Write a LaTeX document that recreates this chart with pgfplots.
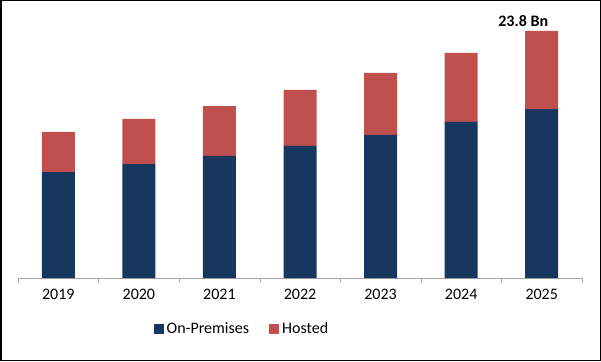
\documentclass[border=0pt]{standalone}
\usepackage{pgfplots}
\pgfplotsset{compat=1.18}
\usepackage{fontspec}
\setmainfont{Carlito}
\definecolor{navy}{HTML}{17375E}
\definecolor{hred}{HTML}{C0504D}
\begin{document}
\begin{tikzpicture}[x=1pt,y=1pt]
\draw[black, line width=1.5pt] (0.75,0.75) rectangle (600.25,360.25);
\begin{axis}[
  at={(18pt,83pt)}, anchor=south west,
  scale only axis, width=564pt, height=259.5pt,
  ybar stacked, bar width=33pt,
  ymin=0, ymax=25, xmin=-0.5, xmax=6.5,
  axis x line*=bottom, axis y line=none,
  axis line style={draw=gray!70},
  xtick={0,...,6}, xticklabels={2019,2020,2021,2022,2023,2024,2025},
  major x tick style={draw=none},
  minor xtick={-0.5,0.5,...,6.5},
  minor x tick style={draw=gray!70},
  minor tick length=5pt,
  tick align=outside,
  xticklabel style={font=\fontsize{16}{18}\selectfont, yshift=-3pt},
  legend style={at={(0.397,-0.197)}, anchor=center, draw=none, legend columns=2,
    font=\fontsize{16}{18}\selectfont, column sep=18pt,
    /tikz/every odd column/.append style={column sep=1pt}},
  clip=false,
]
\addplot[fill=navy, draw=none, legend image code/.code={\fill[navy] (0pt,-5pt) rectangle (10pt,5pt);}]
  coordinates {(0,10.21) (1,10.98) (2,11.76) (3,12.72) (4,13.78) (5,15.03) (6,16.28)};
\addlegendentry{On-Premises}
\addplot[fill=hred, draw=none, legend image code/.code={\fill[hred] (0pt,-5pt) rectangle (10pt,5pt);}]
  coordinates {(0,3.86) (1,4.34) (2,4.81) (3,5.40) (4,5.97) (5,6.65) (6,7.52)};
\addlegendentry{Hosted}
\node[font=\fontsize{16}{18}\selectfont\bfseries, anchor=south] at (axis cs:5.77,23.9) {23.8 Bn};
\end{axis}
\end{tikzpicture}
\end{document}
